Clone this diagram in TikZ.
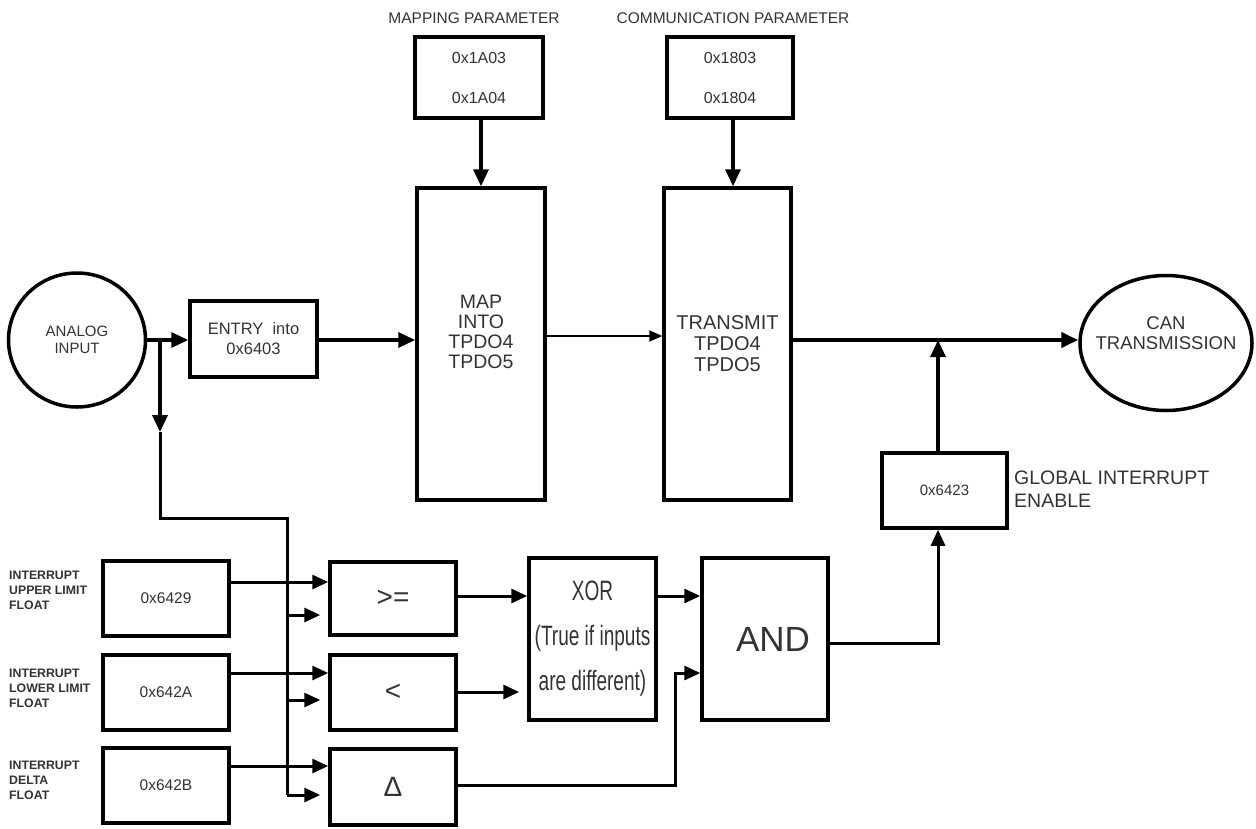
\documentclass[tikz,border=0pt]{standalone}
\usepackage{fontspec}
\usepackage{graphicx}
\setmainfont{Liberation Sans}
\usetikzlibrary{arrows.meta,shapes.geometric}
\begin{document}
\begin{tikzpicture}[x=1pt,y=-1pt,
  fs/.style 2 args={font=\fontsize{#1}{#2}\selectfont},
  box/.style={draw, line width=3.5pt, rectangle, inner sep=0pt, align=center, text=black!80},
  txt/.style={text=black!80, inner sep=0pt},
  small/.style={txt, anchor=west, align=left, font={\fontsize{12.3}{15}\selectfont\bfseries}},
  conn/.style={line width=3.5pt},
  arr/.style={conn, -{Triangle[length=17pt,width=15pt]}},
  busarr/.style={line width=3pt, -{Triangle[length=16pt,width=14pt]}},
  thinarr/.style={line width=2pt, -{Triangle[length=13pt,width=11pt]}}
]
\fill[white] (0,0) rectangle (1256,828);
\useasboundingbox (0,0) rectangle (1256,828);

% headers
\node[txt, fs={15.5}{18}] (mpl) at (474,18) {MAPPING PARAMETER};
\node[txt, fs={15.5}{18}] (cpl) at (733,18) {COMMUNICATION PARAMETER};

% parameter boxes
\node[box, minimum width=128pt, minimum height=81pt, fs={16}{40}] (mapp) at (479,77.5) {0x1A03\\0x1A04};
\node[box, minimum width=126pt, minimum height=81pt, fs={16}{40}] (comp) at (730,77.5) {0x1803\\0x1804};

% main chain
\node[ellipse, draw, line width=3.5pt, minimum width=137pt, minimum height=134pt, inner sep=0pt, align=center, text=black!80, fs={15}{17}] (analog) at (77,340) {ANALOG\\INPUT};
\node[box, minimum width=127pt, minimum height=76pt, fs={16.5}{20}] (entry) at (253.5,339) {ENTRY\ \ into\\0x6403};
\node[box, minimum width=128pt, minimum height=312pt,
  label={[txt, align=center, fs={19.5}{20}, yshift=12pt]center:MAP\\INTO\\TPDO4\\TPDO5}] (map) at (481,344) {};
\node[box, minimum width=127pt, minimum height=312pt, fs={20}{21}] (tx) at (727.5,344) {TRANSMIT\\TPDO4\\TPDO5};
\node[ellipse, draw, line width=3.5pt, minimum width=172pt, minimum height=135pt, inner sep=0pt,
  label={[txt, align=center, fs={18.5}{20}, yshift=10pt]center:CAN\\TRANSMISSION}] (can) at (1166,343) {};

% interrupt
\node[box, minimum width=125pt, minimum height=75pt, fs={15}{18}] (gie) at (944.5,490.5) {0x6423};
\node[txt, anchor=west, align=left, fs={19.5}{23}] (giel) at (1014,489) {GLOBAL INTERRUPT\\ENABLE};

\node[box, minimum width=126pt, minimum height=162pt, fs={35}{38}] (and) at (765,639) {\hspace*{16pt}AND};
\node[box, minimum width=127pt, minimum height=162pt, fs={28}{45}] (xor) at (592.5,639)
  {\scalebox{0.68}[1]{XOR}\\\scalebox{0.68}[1]{(True if inputs}\\\scalebox{0.68}[1]{are different)}};

\node[box, minimum width=126pt, minimum height=73pt, fs={28}{30}] (geq) at (393,598.5) {>=};
\node[box, minimum width=126pt, minimum height=75pt, fs={28}{30}] (lt) at (393,692.5) {<};
\node[box, minimum width=126pt, minimum height=76pt, fs={28}{30}] (dl) at (393,787) {Δ};

\node[box, minimum width=126pt, minimum height=75pt, fs={15.5}{18}] (b29) at (166,598.5) {0x6429};
\node[box, minimum width=126pt, minimum height=75pt, fs={15.5}{18}] (b2A) at (166,692.5) {0x642A};
\node[box, minimum width=126pt, minimum height=75pt, fs={15.5}{18}] (b2B) at (166,785.5) {0x642B};

\node[small] (l29) at (9,590) {INTERRUPT\\UPPER LIMIT\\FLOAT};
\node[small] (l2A) at (9,688) {INTERRUPT\\LOWER LIMIT\\FLOAT};
\node[small] (l2B) at (9,780) {INTERRUPT\\DELTA\\FLOAT};

% connectors top
\draw[arr] (mapp.south -| 481,0) -- (map.north -| 481,0);
\draw[arr] (comp.south -| 733,0) -- (tx.north -| 733,0);
\draw[arr] (analog.east) -- (analog.east -| entry.west);
\draw[arr] (entry.east |- 0,340) -- (map.west |- 0,340);
\draw[thinarr] (map.east |- 0,336) -- (tx.west |- 0,336);
\draw[arr, line width=4pt] (tx.east |- 0,340) -- (can.west |- 0,340);
\draw[arr] (gie.north -| 938,0) -- (938,340);

% branch / bus
\coordinate (br) at (160,340);
\coordinate (brA) at (160,432);
\coordinate (bus0) at (160,518);
\coordinate (bus1) at (287,518);
\coordinate (bus2) at (287,795);
\draw[arr] (br) -- (brA);
\draw[line width=3pt] (brA) -- (bus0) -- (bus1) -- (bus2);
\draw[busarr] (bus1 |- 0,615) -- ([xshift=-8pt]geq.west |- 0,615);
\draw[busarr] (bus1 |- 0,700) -- ([xshift=-8pt]lt.west |- 0,700);
\draw[busarr] (bus2) -- ([xshift=-8pt]dl.west |- bus2);

% inputs
\draw[busarr] (b29.east |- 0,582) -- (geq.west |- 0,582);
\draw[busarr] (b2A.east |- 0,673) -- (lt.west |- 0,673);
\draw[busarr] (b2B.east |- 0,766) -- (dl.west |- 0,766);

% logic
\draw[busarr] (geq.east |- 0,596) -- (xor.west |- 0,596);
\draw[busarr] (lt.east |- 0,692) -- ([xshift=-8pt]xor.west |- 0,692);
\draw[busarr] (xor.east |- 0,596) -- (and.west |- 0,596);
\draw[busarr] (dl.east |- 0,785) -- (675,785) -- (675,673) -- (and.west |- 0,673);
\draw[busarr] (and.east |- 0,643) -- (938,643) -- (gie.south -| 938,0);
\end{tikzpicture}
\end{document}
